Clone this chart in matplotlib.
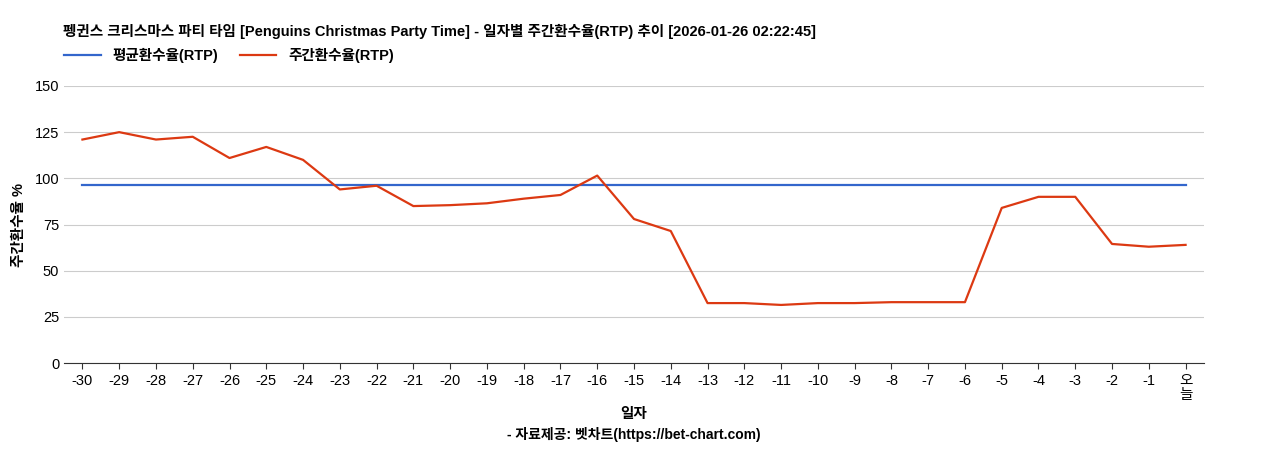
import matplotlib
matplotlib.use("Agg")
import matplotlib.pyplot as plt

plt.rcParams['font.family'] = ['Liberation Sans', 'Noto Sans CJK KR', 'DejaVu Sans']

days = [str(i) for i in range(-30, 0)] + ["오\n늘"]
weekly_rtp = [121, 125, 121, 122.5, 111, 117, 110, 94, 96, 85, 85.5, 86.5, 89, 91, 101.5,
              78, 71.5, 32.5, 32.5, 31.5, 32.5, 32.5, 33, 33, 33, 84, 90, 90, 64.5, 63, 64]
avg_rtp = [96.5] * len(days)

fig = plt.figure(figsize=(12.68, 4.5), dpi=100)
ax = fig.add_axes([0.0505, 0.193, 0.899, 0.616])
x = list(range(len(days)))
ax.plot(x, avg_rtp, color='#3366cc', lw=1.6, label='평균환수율(RTP)')
ax.plot(x, weekly_rtp, color='#dc3912', lw=1.6, label='주간환수율(RTP)')
ax.set_xlim(-0.5, len(days) - 0.5)
ax.set_ylim(0, 150)
ax.set_yticks([0, 25, 50, 75, 100, 125, 150])
ax.set_xticks(x)
ax.set_xticklabels(days, fontsize=10.5, linespacing=1.0)
ax.tick_params(axis='y', labelsize=10.5, length=0)
ax.tick_params(axis='x', length=4, color='#333333')
ax.grid(axis='y', color='#cccccc', lw=0.8)
ax.set_axisbelow(True)
for s in ['top', 'right', 'left']:
    ax.spines[s].set_visible(False)
ax.spines['bottom'].set_color('#333333')
ax.set_ylabel('주간환수율 %', fontsize=10.5, fontweight='bold', labelpad=6)
ax.set_xlabel('일자', fontsize=10.5, fontweight='bold', labelpad=4)
fig.text(0.5, 0.025, '- 자료제공: 벳차트(https://bet-chart.com)', ha='center', fontsize=10, fontweight='bold')
fig.text(0.05, 0.92, '펭귄스 크리스마스 파티 타임 [Penguins Christmas Party Time] - 일자별 주간환수율(RTP) 추이 [2026-01-26 02:22:45]',
         fontsize=10.5, fontweight='bold')
ax.legend(loc='lower left', bbox_to_anchor=(-0.005, 1.06), ncol=2, frameon=False,
          prop={'weight': 'bold', 'size': 10.5}, handlelength=2.5,
          borderaxespad=0, columnspacing=1.5)
fig.savefig('out.png', dpi=100)
